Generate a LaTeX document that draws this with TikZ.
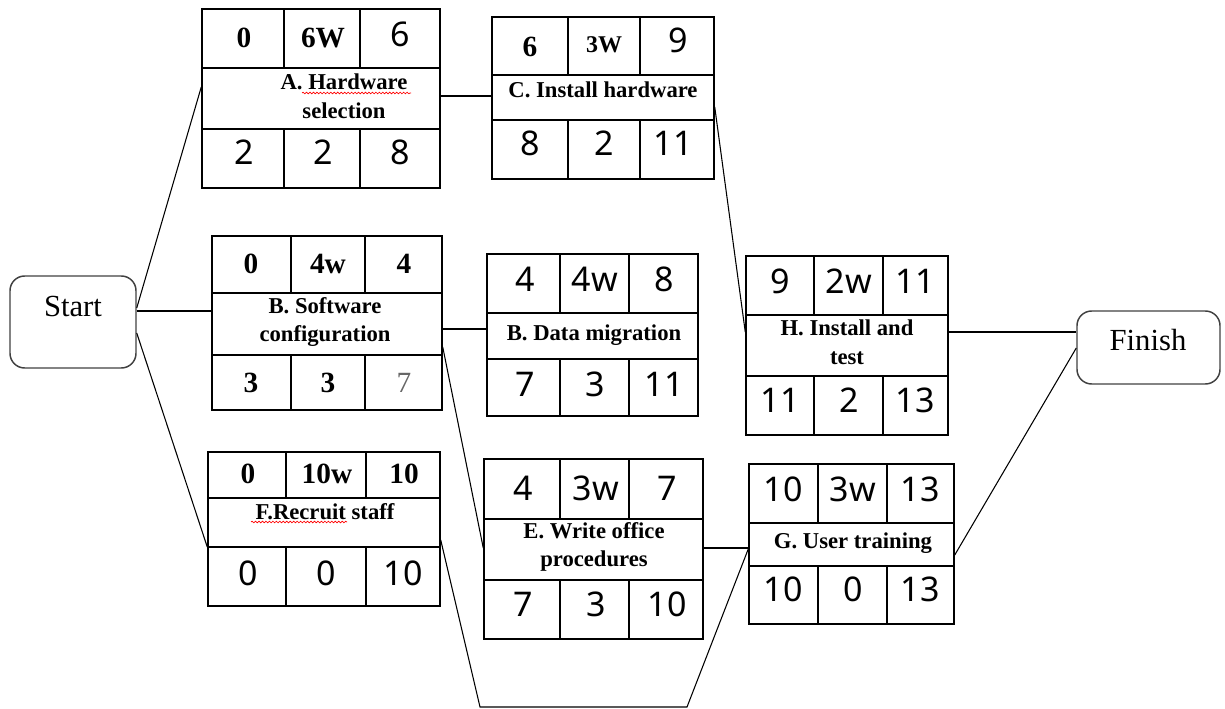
\documentclass[tikz,border=0pt]{standalone}
\usepackage{fontspec}
\setmainfont{Liberation Serif}
\newfontfamily\numsans{Noto Sans}
\usetikzlibrary{fit,decorations.pathmorphing}

\tikzset{
  box/.style={draw, line width=1.1pt, inner sep=0pt},
  rule/.style={line width=1.1pt},
  link/.style={line width=0.8pt},
  endbox/.style={draw=black!75, line width=1.1pt, rounded corners=11pt, inner sep=0pt},
  endtxt/.style={font=\fontsize{23}{27}\selectfont},
  bnum/.style={font=\fontsize{22}{26}\selectfont\bfseries},
  snum/.style={font=\numsans\fontsize{25.5}{28}\selectfont},
  lbl/.style={font=\fontsize{17}{21.5}\selectfont\bfseries, align=center},
  spell/.style={draw=red, line width=0.5pt, decorate,
    decoration={snake, amplitude=0.6pt, segment length=2.6pt}}
}

\begin{document}
\begin{tikzpicture}[x=0.75pt, y=-0.75pt]
  \useasboundingbox (0,0) rectangle (1225,709);

  % start and finish
  \node[endbox, fit={(10,276) (136,368)}] (Start) {};
  \node[endtxt] (Start-t) at (73,306) {Start};
  \node[endbox, fit={(1077,311) (1220,384)}] (Finish) {};
  \node[endtxt] (Finish-t) at (1148,340) {Finish};

  % A. hardware selection
  \node[box, fit={(202,9) (440,188)}] (A) {};
  \draw[rule] (202,68) -- (440,68) (202,129) -- (440,129)
    (284,9) -- (284,68) (360,9) -- (360,68) (284,129) -- (284,188) (360,129) -- (360,188);
  \node[bnum] (A-es) at (244,38) {0};
  \node[bnum] (A-d) at (323,38) {6W};
  \node[snum] (A-ef) at (400,34) {6};
  \node[lbl] (A-l) at (344,96) {A. Hardware\\ selection};
  \node[snum] (A-ls) at (244,152) {2};
  \node[snum] (A-sl) at (323,152) {2};
  \node[snum] (A-lf) at (400,152) {8};
  \draw[spell] (302,93) -- (411,93);

  % C. install hardware
  \node[box, fit={(492,17) (714,179)}] (C) {};
  \draw[rule] (492,75) -- (714,75) (492,120) -- (714,120)
    (568,17) -- (568,75) (640,17) -- (640,75) (568,120) -- (568,179) (640,120) -- (640,179);
  \node[bnum] (C-es) at (530,47) {6};
  \node[bnum, font=\fontsize{18}{21}\selectfont\bfseries] (C-d) at (604,45) {3W};
  \node[snum] (C-ef) at (678,40) {9};
  \node[lbl] (C-l) at (603,90) {C. Install hardware};
  \node[snum] (C-ls) at (530,143) {8};
  \node[snum] (C-sl) at (604,143) {2};
  \node[snum] (C-lf) at (673,143) {11};

  % B. software configuration
  \node[box, fit={(212,236) (442,410)}] (B1) {};
  \draw[rule] (212,293) -- (442,293) (212,355) -- (442,355)
    (291,236) -- (291,293) (365,236) -- (365,293) (291,355) -- (291,410) (365,355) -- (365,410);
  \node[bnum] (B1-es) at (251,264) {0};
  \node[bnum] (B1-d) at (328,264) {4w};
  \node[bnum] (B1-ef) at (404,264) {4};
  \node[lbl] (B1-l) at (325,322) {B. Software\\ configuration};
  \node[bnum] (B1-ls) at (251,383) {3};
  \node[bnum] (B1-sl) at (328,383) {3};
  \node[bnum, font=\fontsize{22}{26}\selectfont, text=black!60] (B1-lf) at (404,383) {7};

  % B. data migration
  \node[box, fit={(487,254) (698,416)}] (B2) {};
  \draw[rule] (487,313) -- (698,313) (487,359) -- (698,359)
    (560,254) -- (560,313) (629,254) -- (629,313) (560,359) -- (560,416) (629,359) -- (629,416);
  \node[snum] (B2-es) at (525,279) {4};
  \node[snum] (B2-d) at (595,279) {4w};
  \node[snum] (B2-ef) at (664,279) {8};
  \node[lbl] (B2-l) at (594,335) {B. Data migration};
  \node[snum] (B2-ls) at (525,384) {7};
  \node[snum] (B2-sl) at (595,384) {3};
  \node[snum] (B2-lf) at (664,384) {11};

  % H. install and test
  \node[box, fit={(746,256) (948,435)}] (H) {};
  \draw[rule] (746,315) -- (948,315) (746,376) -- (948,376)
    (814,256) -- (814,315) (883,256) -- (883,315) (814,376) -- (814,435) (883,376) -- (883,435);
  \node[snum] (H-es) at (780,281) {9};
  \node[snum] (H-d) at (849,281) {2w};
  \node[snum] (H-ef) at (915,281) {11};
  \node[lbl] (H-l) at (847,342) {H. Install and\\ test};
  \node[snum] (H-ls) at (780,400) {11};
  \node[snum] (H-sl) at (849,400) {2};
  \node[snum] (H-lf) at (915,400) {13};

  % F. recruit staff
  \node[box, fit={(208,452) (440,606)}] (F) {};
  \draw[rule] (208,498) -- (440,498) (208,547) -- (440,547)
    (286,452) -- (286,498) (366,452) -- (366,498) (286,547) -- (286,606) (366,547) -- (366,606);
  \node[bnum] (F-es) at (248,474) {0};
  \node[bnum] (F-d) at (327,474) {10w};
  \node[bnum] (F-ef) at (404,474) {10};
  \node[lbl] (F-l) at (325,512) {F.Recruit staff};
  \node[snum] (F-ls) at (248,573) {0};
  \node[snum] (F-sl) at (326,573) {0};
  \node[snum] (F-lf) at (403,573) {10};
  \draw[spell] (251,522) -- (347,522);

  % E. write office procedures
  \node[box, fit={(484,459) (703,639)}] (E) {};
  \draw[rule] (484,519) -- (703,519) (484,580) -- (703,580)
    (560,459) -- (560,519) (629,459) -- (629,519) (560,580) -- (560,639) (629,580) -- (629,639);
  \node[snum] (E-es) at (523,488) {4};
  \node[snum] (E-d) at (596,488) {3w};
  \node[snum] (E-ef) at (667,488) {7};
  \node[lbl] (E-l) at (594,547) {E. Write office\\ procedures};
  \node[snum] (E-ls) at (523,604) {7};
  \node[snum] (E-sl) at (596,604) {3};
  \node[snum] (E-lf) at (667,604) {10};

  % G. user training
  \node[box, fit={(749,464) (954,624)}] (G) {};
  \draw[rule] (749,523) -- (954,523) (749,566) -- (954,566)
    (818,464) -- (818,523) (887,464) -- (887,523) (818,566) -- (818,624) (887,566) -- (887,624);
  \node[snum] (G-es) at (783,489) {10};
  \node[snum] (G-d) at (853,489) {3w};
  \node[snum] (G-ef) at (920,489) {13};
  \node[lbl] (G-l) at (853,543) {G. User training};
  \node[snum] (G-ls) at (783,589) {10};
  \node[snum] (G-sl) at (853,589) {0};
  \node[snum] (G-lf) at (920,589) {13};

  % links
  \coordinate (FG1) at (480,707);
  \coordinate (FG2) at (687,707);
  \draw[link] (Start.east |- 0,308) -- (A.west |- 0,87);
  \draw[link] (Start.east |- 0,311) -- (B1.west |- 0,311);
  \draw[link] (Start.east |- 0,333) -- (F.west |- 0,547);
  \draw[link] (A.east |- 0,96) -- (C.west |- 0,96);
  \draw[link] (C.east |- 0,107) -- (H.west |- 0,332);
  \draw[link] (B1.east |- 0,329) -- (B2.west |- 0,329);
  \draw[link] (B1.east |- 0,347) -- (E.west |- 0,548);
  \draw[link] (F.east |- 0,540) -- (FG1) -- (FG2) -- (G.west |- 0,549);
  \draw[link] (E.east |- 0,548) -- (G.west |- 0,548);
  \draw[link] (H.east |- 0,332) -- (Finish.west |- 0,332);
  \draw[link] (G.east |- 0,555) -- (Finish.west |- 0,348);
\end{tikzpicture}
\end{document}
